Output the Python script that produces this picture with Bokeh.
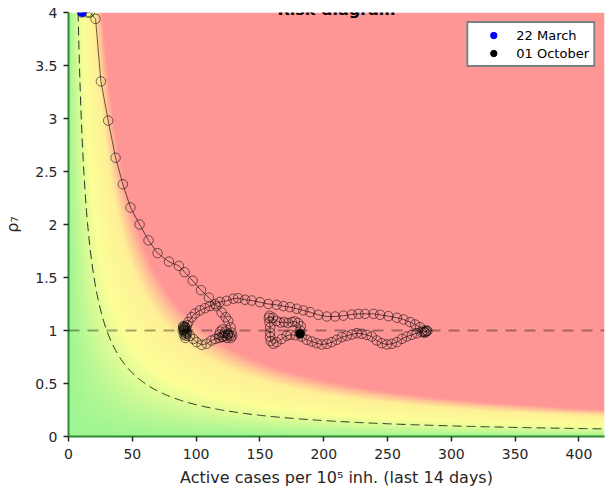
import numpy as np
from bokeh.plotting import figure
from bokeh.models import Range1d, FixedTicker, Label, Legend, LegendItem, Span
from bokeh.embed import file_html
from bokeh.resources import INLINE

# ---------------- data ----------------
# trajectory, split in phases (active cases per 1e5 inh., rho_7)
cases_rise = [10.7, 14.9, 16.7, 21.2, 25.4, 31.1, 36.9, 42.6, 48.6, 55.7, 62.7, 69.8, 78.7, 86.5,
              91.0, 97.3, 103.8, 110.0, 115.8, 120.0, 123.1, 125.2, 127.0, 127.8]
rho_rise = [4.0, 4.0, 4.0, 3.94, 3.35, 2.98, 2.63, 2.38, 2.16, 2.0, 1.85, 1.73, 1.65, 1.61,
            1.55, 1.47, 1.38, 1.31, 1.23, 1.17, 1.125, 1.09, 1.03, 0.98]

cases_peak1 = [128.3, 127.2, 125.0, 122.8, 120.6, 118.9, 118.2, 120.1, 122.9, 125.3, 126.4, 124.2, 121.0, 118.0]
rho_peak1 = [0.95, 0.93, 0.96, 0.99, 1.01, 0.99, 0.96, 0.94, 0.95, 0.97, 0.95, 0.93, 0.94, 0.93]

cases_fall1 = [115.0, 112.0, 108.2, 104.3, 100.4, 97.8, 95.1, 93.0]
rho_fall1 = [0.92, 0.905, 0.875, 0.865, 0.89, 0.92, 0.95, 0.97]

cases_low = [91.6, 90.5, 89.8, 90.2, 91.0, 92.1, 91.5, 90.4, 89.5, 90.1, 91.1, 92.2, 92.6, 91.8, 90.8, 91.6, 93.0]
rho_low = [1.0, 1.02, 1.04, 1.01, 0.98, 0.95, 0.93, 0.96, 1.0, 1.03, 1.04, 1.02, 0.99, 0.97, 1.0, 1.03, 1.05]

cases_wave2 = [93.9, 96.5, 99.1, 103.0, 106.9, 110.8, 114.8, 118.7, 123.9, 129.2,
               133.0, 138.3, 143.5, 150.0, 156.6, 163.1, 168.4, 173.6, 178.8, 184.0,
               189.3, 195.8, 202.4, 208.9, 215.4, 222.0, 227.2, 232.4, 239.0, 244.2,
               250.7, 257.3, 262.5, 267.7, 271.6, 275.5, 278.2, 280.0]
rho_wave2 = [1.08, 1.125, 1.16, 1.19, 1.21, 1.23, 1.25, 1.27, 1.28, 1.3,
             1.305, 1.29, 1.283, 1.267, 1.25, 1.242, 1.23, 1.22, 1.205, 1.19,
             1.173, 1.148, 1.132, 1.132, 1.14, 1.151, 1.157, 1.157, 1.157, 1.148,
             1.135, 1.12, 1.104, 1.079, 1.057, 1.031, 1.0, 0.99]

cases_peak2 = [281.2, 279.4, 280.6, 278.4]
rho_peak2 = [0.995, 0.98, 1.0, 0.985]

cases_fall2 = [276.9, 272.9, 269.0, 265.0, 261.2, 257.3, 253.3, 249.4, 245.5, 241.6,
               237.6, 233.7, 229.8, 225.9, 222.0, 218.0, 214.1, 210.2, 206.3, 202.4,
               198.4, 194.5, 190.6, 186.7, 182.7, 178.0, 174.0, 171.0, 167.0, 163.0,
               160.5, 158.5, 158.0, 158.0, 158.0, 157.5, 157.0, 157.5, 160.0, 163.0,
               166.0, 169.0, 172.0, 175.0, 177.5, 180.0, 182.0, 181.5, 181.4]
rho_fall2 = [0.984, 0.975, 0.959, 0.943, 0.921, 0.89, 0.874, 0.868, 0.88, 0.906,
             0.943, 0.959, 0.969, 0.975, 0.962, 0.95, 0.937, 0.912, 0.89, 0.874,
             0.868, 0.88, 0.896, 0.912, 0.943, 0.955, 0.96, 0.95, 0.92, 0.89,
             0.875, 0.9, 0.94, 0.98, 1.03, 1.08, 1.12, 1.14, 1.12, 1.09,
             1.075, 1.08, 1.07, 1.08, 1.085, 1.07, 1.04, 1.0, 0.97]

start_label = "22 March"
end_label = "01 October"
title_text = "Risk diagram"

X_MAX = 420
Y_MAX = 4
X_TICKS = [0, 50, 100, 150, 200, 250, 300, 350, 400]
Y_TICKS = [0, 0.5, 1, 1.5, 2, 2.5, 3, 3.5, 4]
Y_TICK_LABELS = ["0", "0.5", "1", "1.5", "2", "2.5", "3", "3.5", "4"]

# risk (EPG = cases * rho) colour scale
EPG_DASHED = 30
EPG_STOPS = [0, 20, 42, 80, 95, 106]
EPG_COLORS = [(158, 246, 146), (205, 250, 150), (252, 255, 150), (255, 240, 150), (255, 192, 150), (255, 150, 150)]

# ---------------- assemble ----------------
cases = cases_rise + cases_peak1 + cases_fall1 + cases_low + cases_wave2 + cases_peak2 + cases_fall2
rho = rho_rise + rho_peak1 + rho_fall1 + rho_low + rho_wave2 + rho_peak2 + rho_fall2

TXT = "#262626"
FONT = "DejaVu Sans"

p = figure(width=605, height=490, output_backend="svg", toolbar_location=None,
           x_range=Range1d(0, X_MAX), y_range=Range1d(0, Y_MAX),
           min_border_top=12, min_border_bottom=54, min_border_left=67, min_border_right=1)
p.background_fill_color = "white"
p.border_fill_color = "white"
p.outline_line_color = None
p.grid.visible = False

# background risk field
nx, ny = 640, 500
gx = (np.arange(nx) + 0.5) * X_MAX / nx
gy = (np.arange(ny) + 0.5) * Y_MAX / ny
E = gy[:, None] * gx[None, :]
img = np.empty((ny, nx), dtype=np.uint32)
view = img.view(dtype=np.uint8).reshape((ny, nx, 4))
for k in range(3):
    view[..., k] = np.interp(E, EPG_STOPS, [c[k] for c in EPG_COLORS]).astype(np.uint8)
view[..., 3] = 255
p.image_rgba(image=[img], x=0, y=0, dw=X_MAX, dh=Y_MAX)

# threshold curve EPG = 30
hx = np.linspace(EPG_DASHED / Y_MAX, X_MAX, 500)
p.line(hx, EPG_DASHED / hx, line_color="black", line_width=0.8, line_dash="9 5")

# rho = 1 line
p.add_layout(Span(location=1, dimension="width", line_color="black", line_alpha=0.35,
                  line_width=2, line_dash="11 8"))

# trajectory
p.line(cases, rho, line_color="black", line_width=0.6)
p.scatter(cases, rho, marker="circle", size=9.5, fill_alpha=0, line_color="black", line_width=0.6, line_alpha=0.9)
r_start = p.scatter([cases[0]], [rho[0]], marker="circle", size=8, fill_color="blue", line_color="blue")
r_end = p.scatter([cases[-1]], [rho[-1]], marker="circle", size=8, fill_color="black", line_color="black")

legend = Legend(items=[LegendItem(label=start_label, renderers=[r_start]),
                       LegendItem(label=end_label, renderers=[r_end])],
                location="top_right")
legend.border_line_color = "black"
legend.border_line_width = 2.5
legend.background_fill_color = "white"
legend.background_fill_alpha = 1
legend.label_text_font = FONT
legend.label_text_font_size = "13px"
legend.label_text_color = "black"
legend.glyph_width = 42
legend.glyph_height = 16
legend.label_height = 16
legend.label_standoff = 2
legend.padding = 4
legend.spacing = 2
legend.margin = 9
legend.label_text_line_height = 1.0
p.add_layout(legend)

# axes
for ax in (p.xaxis[0], p.yaxis[0]):
    ax.axis_line_color = "#2f8a2f"
    ax.axis_line_width = 2
    ax.major_tick_line_color = TXT
    ax.major_tick_line_width = 1.5
    ax.major_tick_out = 5
    ax.major_tick_in = 0
    ax.minor_tick_line_color = None
    ax.major_label_text_font = FONT
    ax.major_label_text_font_size = "14px"
    ax.major_label_text_color = TXT
    ax.axis_label_text_font = FONT
    ax.axis_label_text_font_size = "16px"
    ax.axis_label_text_font_style = "normal"
    ax.axis_label_text_color = TXT

p.xaxis.ticker = FixedTicker(ticks=X_TICKS)
p.yaxis.ticker = FixedTicker(ticks=Y_TICKS)
p.yaxis.major_label_overrides = {t: l for t, l in zip(Y_TICKS, Y_TICK_LABELS)}
p.xaxis.major_label_standoff = 7
p.yaxis.major_label_standoff = 6
p.xaxis.axis_label = "Active cases per 10\u2075 inh. (last 14 days)"
p.yaxis.axis_label = "\u03c1\u2087"
p.xaxis.axis_label_standoff = 6
p.yaxis.axis_label_standoff = 10

# title: as in the reference, only its lower edge shows above the plot
p.add_layout(Label(x=X_MAX / 2, y=Y_MAX, text=title_text, text_align="center",
                   text_baseline="alphabetic", y_offset=3, text_font=FONT,
                   text_font_size="16px", text_font_style="bold", text_color="black",
                   level="overlay"))

open("out.html", "w").write(file_html(p, INLINE))
